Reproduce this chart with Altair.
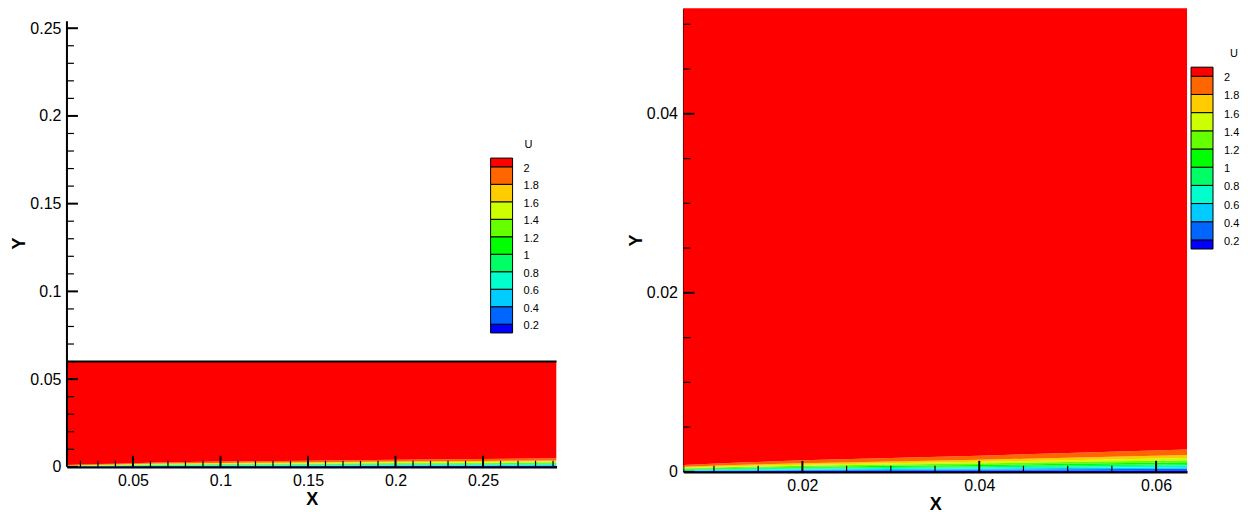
import altair as alt
import pandas as pd

FONT = "Liberation Sans"

# Contour levels of U and the Tecplot-like "small rainbow" colours
LEVELS = [0.2, 0.4, 0.6, 0.8, 1.0, 1.2, 1.4, 1.6, 1.8, 2.0]
LEVEL_LABELS = ["0.2", "0.4", "0.6", "0.8", "1", "1.2", "1.4", "1.6", "1.8", "2"]
BAND_U = [0.1, 0.3, 0.5, 0.7, 0.9, 1.1, 1.3, 1.5, 1.7, 1.9, 2.1]
COLORS = ["#0000FF", "#0066FF", "#00CCFF", "#00FFCC", "#00FF66", "#00FF00",
          "#66FF00", "#CCFF00", "#FFCC00", "#FF6600", "#FF0000"]
# Legend box edges (end boxes are half height, as in the reference)
LEGEND_EDGES = [0.1, 0.2, 0.4, 0.6, 0.8, 1.0, 1.2, 1.4, 1.6, 1.8, 2.0, 2.1]

# Height of each contour level as a fraction of the U=2 contour height
LEVEL_FRAC = [0.07, 0.14, 0.21, 0.28, 0.35, 0.43, 0.52, 0.62, 0.75, 1.0]
# Streamwise stations and height of the U=2 contour there
X_STATIONS = [0.006, 0.0123, 0.02, 0.03, 0.04, 0.05, 0.0635, 0.1, 0.15, 0.2, 0.25, 0.292]
DELTA_U2 = [0.00075, 0.00102, 0.00128, 0.00155, 0.0018, 0.0021, 0.0025, 0.0030,
            0.0035, 0.0041, 0.0045, 0.0049]
CHANNEL_TOP = 0.06

# Left panel axes
L_XDOM = [0.0123, 0.292]
L_YDOM = [0.0, 0.2614]
L_YAXIS_TOP = 0.254
L_XMAJ = [0.05, 0.1, 0.15, 0.2, 0.25]
L_XMIN = [0.02, 0.03, 0.04, 0.06, 0.07, 0.08, 0.09, 0.11, 0.12, 0.13, 0.14, 0.16,
          0.17, 0.18, 0.19, 0.21, 0.22, 0.23, 0.24, 0.26, 0.27, 0.28, 0.29]
L_YMAJ = [0.0, 0.05, 0.1, 0.15, 0.2, 0.25]
L_YMIN = [0.01, 0.02, 0.03, 0.04, 0.06, 0.07, 0.08, 0.09, 0.11, 0.12, 0.13, 0.14,
          0.16, 0.17, 0.18, 0.19, 0.21, 0.22, 0.23, 0.24]

# Right panel axes
R_XDOM = [0.00655, 0.0635]
R_YDOM = [0.0, 0.0518]
R_XMAJ = [0.02, 0.04, 0.06]
R_XMIN = [0.01, 0.015, 0.025, 0.03, 0.035, 0.045, 0.05, 0.055]
R_YMAJ = [0.0, 0.02, 0.04]
R_YMIN = [0.005, 0.01, 0.015, 0.025, 0.03, 0.035, 0.045, 0.05]

rows = []
for xs, d in zip(X_STATIONS, DELTA_U2):
    bounds = [0.0] + [f * d for f in LEVEL_FRAC] + [CHANNEL_TOP]
    for i, u in enumerate(BAND_U):
        rows.append({"x": xs, "band": i, "u": u, "lo": bounds[i], "hi": bounds[i + 1]})
bands_df = pd.DataFrame(rows)

legend_df = pd.DataFrame({"lo": LEGEND_EDGES[:-1], "hi": LEGEND_EDGES[1:], "u": BAND_U})
legend_lab_df = pd.DataFrame({"v": LEVELS, "t": LEVEL_LABELS})
legend_title_df = pd.DataFrame({"v": [LEGEND_EDGES[-1]], "t": ["U"]})

CSCALE = alt.Scale(type="threshold", domain=LEVELS, range=COLORS)


def panel(W, H, xdom, ydom, xmaj, xmin_, ymaj, ymin_, lx, ltop, lbot, tdx, left=True):
    xs = alt.Scale(domain=xdom, nice=False, zero=False)
    ys = alt.Scale(domain=ydom, nice=False, zero=False)
    xaxis = alt.Axis(values=xmaj, format="~g", title="X", ticks=False, tickSize=0,
                     domain=True, domainColor="black", domainWidth=2.5,
                     labelPadding=6, titlePadding=2, grid=False)
    yaxis = alt.Axis(values=ymaj, format="~g", title="Y", ticks=False, tickSize=0,
                     domain=not left, domainColor="black", domainWidth=2,
                     labelPadding=6, titlePadding=1, grid=False,
                     **({"titleY": 235} if left else {}))
    area = alt.Chart(bands_df).mark_area(clip=True, opacity=1).encode(
        x=alt.X("x:Q", scale=xs, axis=xaxis),
        y=alt.Y("lo:Q", scale=ys, axis=yaxis, stack=None),
        y2="hi:Q",
        color=alt.Color("u:Q", scale=CSCALE, legend=None),
        detail="band:N",
    )
    layers = [area]
    if left:
        top_df = pd.DataFrame({"v": [CHANNEL_TOP]})
        layers.append(alt.Chart(top_df).mark_rule(color="black", strokeWidth=2).encode(
            y=alt.Y("v:Q", scale=ys, axis=None)))
        ax_df = pd.DataFrame({"a": [0.0], "b": [L_YAXIS_TOP]})
        layers.append(alt.Chart(ax_df).mark_rule(color="black", strokeWidth=2).encode(
            y=alt.Y("a:Q", scale=ys, axis=None), y2="b:Q", x=alt.value(0)))
    ymaj_df = pd.DataFrame({"v": ymaj})
    ymin_df = pd.DataFrame({"v": ymin_})
    xmaj_df = pd.DataFrame({"v": xmaj})
    xmin_df = pd.DataFrame({"v": xmin_})
    layers.append(alt.Chart(ymaj_df).mark_rule(color="black", strokeWidth=2).encode(
        y=alt.Y("v:Q", scale=ys, axis=None), x=alt.value(0), x2=alt.value(11)))
    layers.append(alt.Chart(ymin_df).mark_rule(color="black", strokeWidth=1.2).encode(
        y=alt.Y("v:Q", scale=ys, axis=None), x=alt.value(0), x2=alt.value(7)))
    layers.append(alt.Chart(xmaj_df).mark_rule(color="black", strokeWidth=2).encode(
        x=alt.X("v:Q", scale=xs, axis=None), y=alt.value(H), y2=alt.value(H - 11)))
    layers.append(alt.Chart(xmin_df).mark_rule(color="black", strokeWidth=1.2).encode(
        x=alt.X("v:Q", scale=xs, axis=None), y=alt.value(H), y2=alt.value(H - 6)))

    # Legend, drawn from the contour levels through its own vertical scale
    ls = alt.Scale(domain=[LEGEND_EDGES[0], LEGEND_EDGES[-1]], range=[lbot, ltop])
    layers.append(alt.Chart(legend_df).mark_rect(stroke="black", strokeWidth=1).encode(
        y=alt.Y("lo:Q", scale=ls, axis=None), y2="hi:Q",
        x=alt.value(lx), x2=alt.value(lx + 22),
        color=alt.Color("u:Q", scale=CSCALE, legend=None)))
    layers.append(alt.Chart(legend_lab_df).mark_text(
        align="left", baseline="middle", font=FONT, fontSize=11, color="black", dy=2
    ).encode(y=alt.Y("v:Q", scale=ls, axis=None), x=alt.value(lx + 33), text="t:N"))
    layers.append(alt.Chart(legend_title_df).mark_text(
        align="center", baseline="middle", font=FONT, fontSize=11, color="black", dy=-13
    ).encode(y=alt.Y("v:Q", scale=ls, axis=None), x=alt.value(lx + tdx), text="t:N"))

    return alt.layer(*layers).resolve_scale(x="independent", y="independent").properties(
        width=W, height=H)


left = panel(490, 459, L_XDOM, L_YDOM, L_XMAJ, L_XMIN, L_YMAJ, L_YMIN,
             lx=424, ltop=150, lbot=325, tdx=38, left=True)
right = panel(504, 464, R_XDOM, R_YDOM, R_XMAJ, R_XMIN, R_YMAJ, R_YMIN,
              lx=508, ltop=59, lbot=241, tdx=43, left=False)

chart = alt.hconcat(left, right, spacing=69).properties(
    padding={"left": 2, "top": 0, "right": 0, "bottom": 0}
).configure_view(stroke=None).configure_axis(
    labelFont=FONT, labelFontSize=16, labelColor="black",
    titleFont=FONT, titleFontSize=18, titleFontWeight="bold", titleColor="black",
)

chart.save("out.html", embed_options={"renderer": "svg", "actions": False})
